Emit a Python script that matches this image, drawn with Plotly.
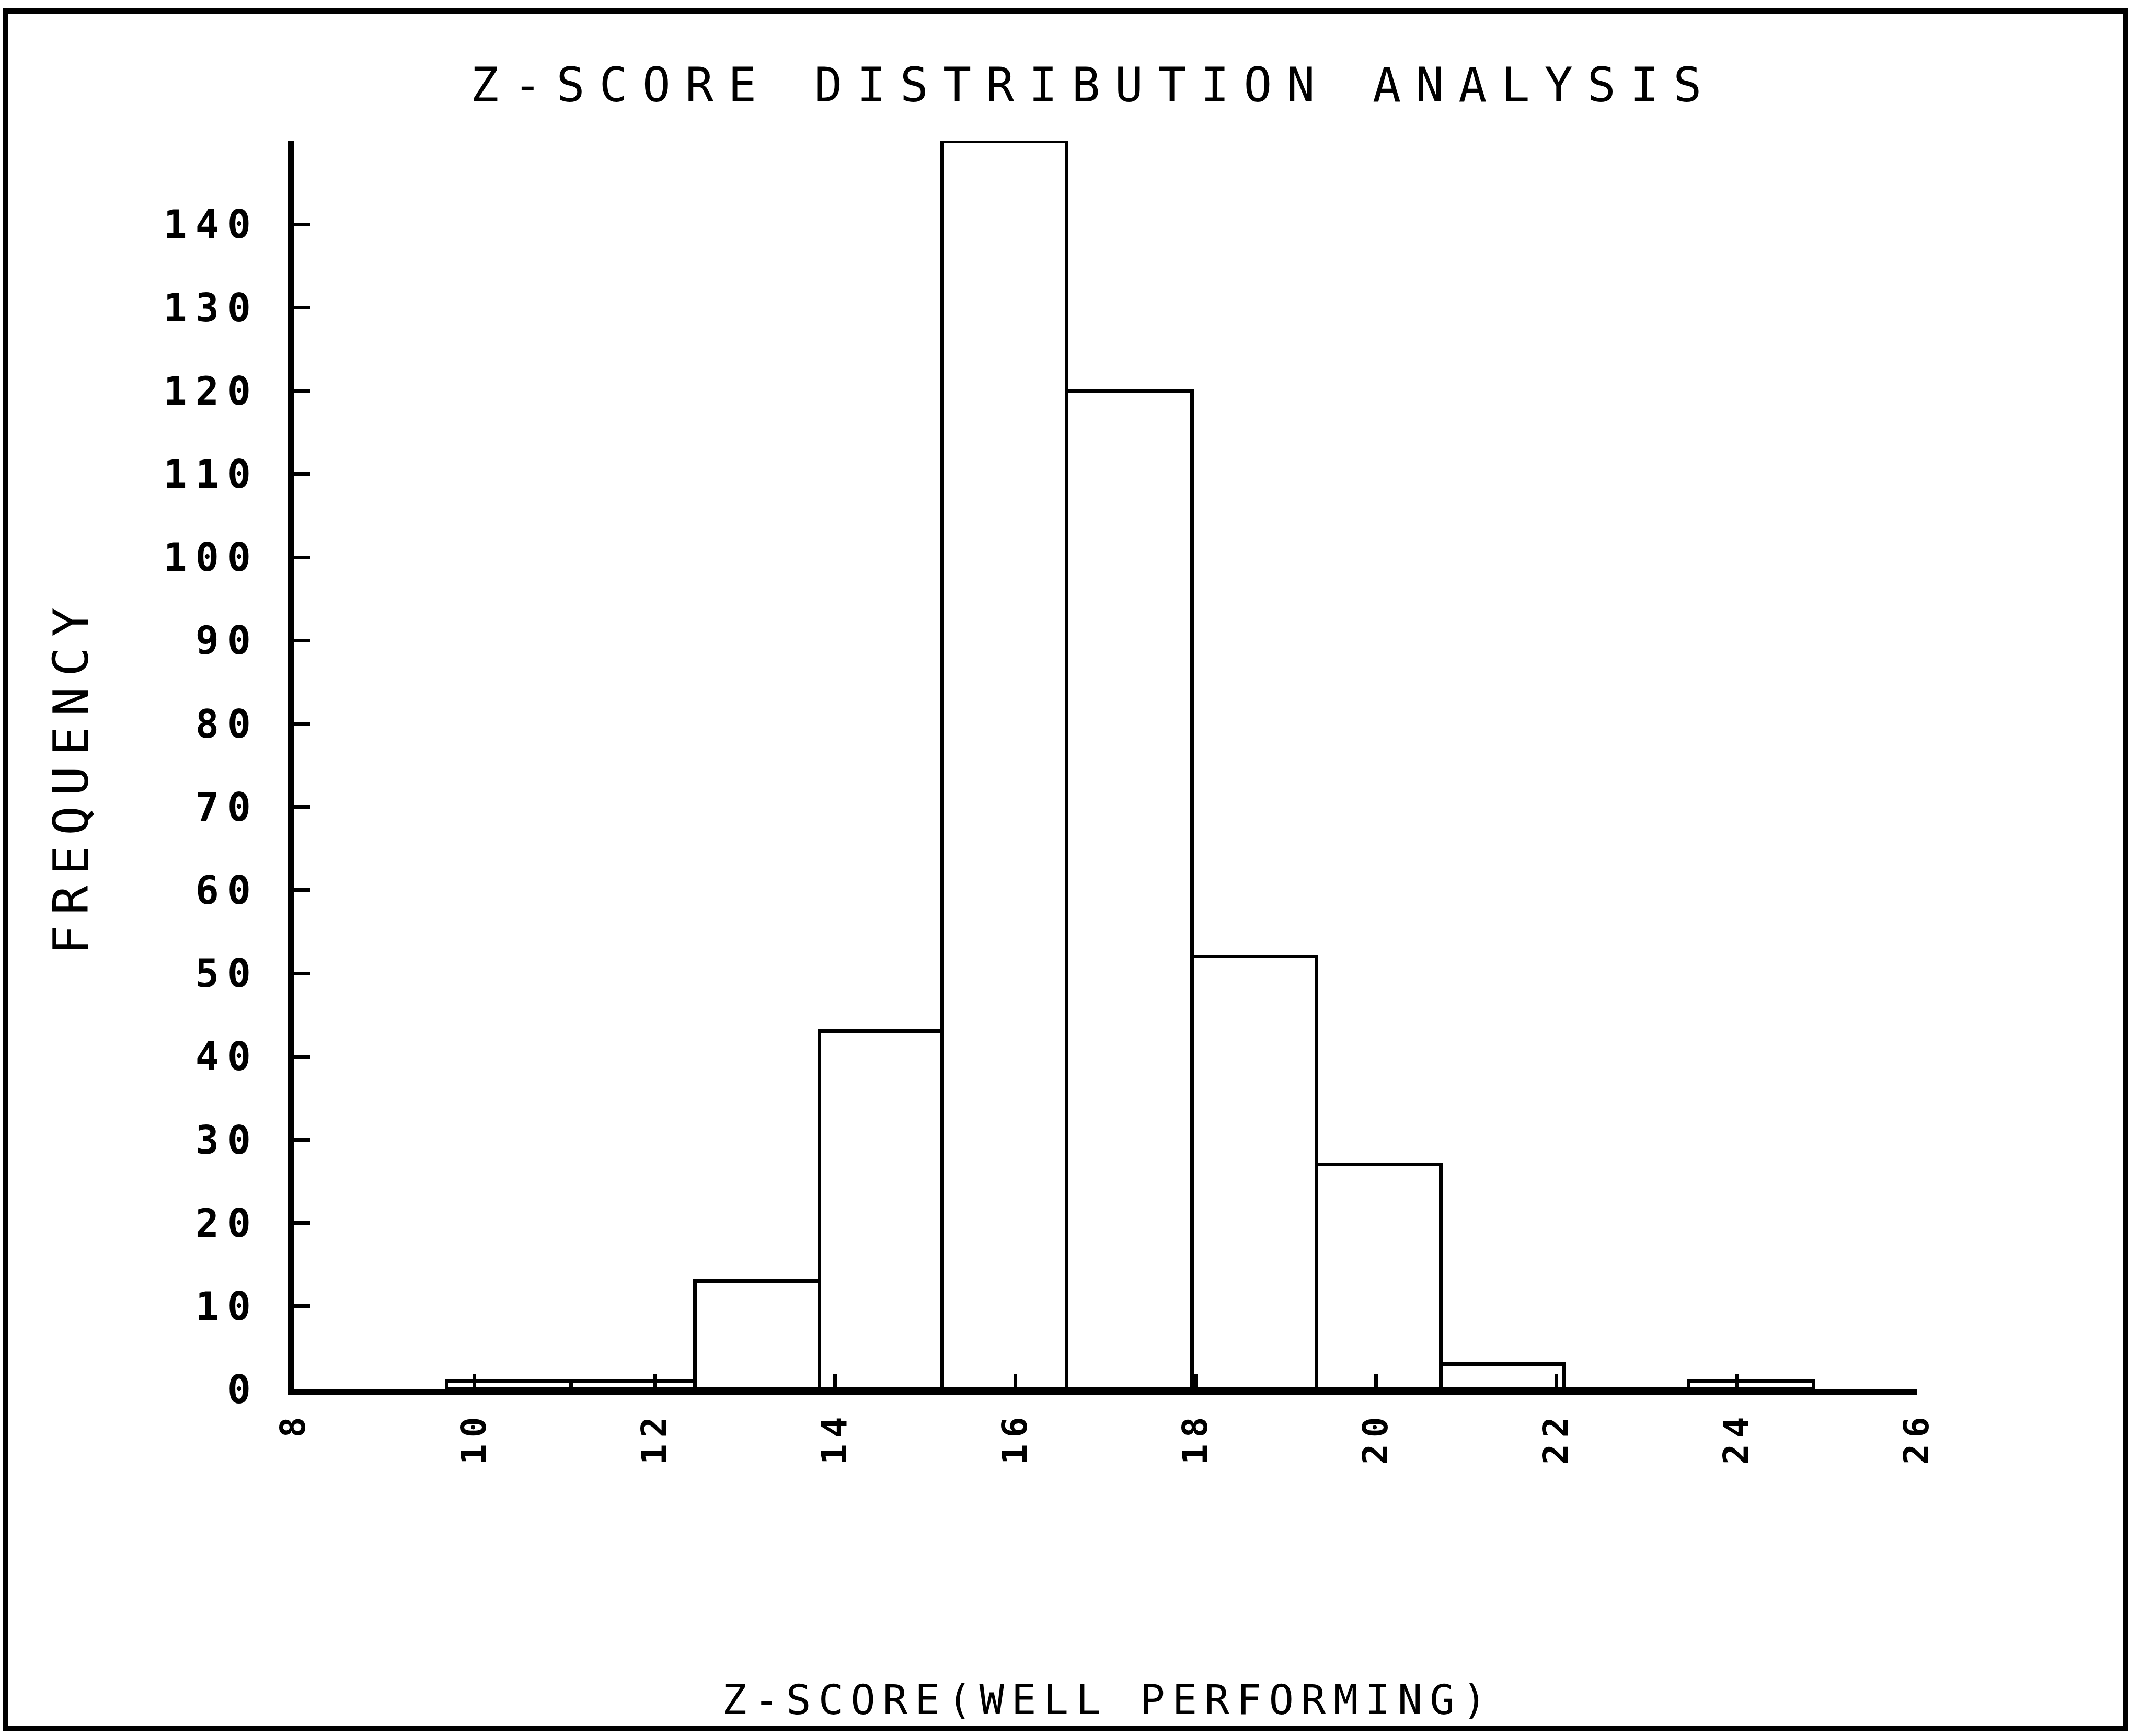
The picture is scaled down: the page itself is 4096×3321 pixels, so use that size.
import plotly.graph_objects as go

# ---- data ----
bin_edges = [9.70, 11.08, 12.45, 13.83, 15.19, 16.57, 17.96, 19.34, 20.72, 22.09, 23.47, 24.85]
frequencies = [1, 1, 13, 43, 150, 120, 52, 27, 3, 0, 1]
x_tick_values = [8, 10, 12, 14, 16, 18, 20, 22, 24, 26]
x_tick_labels = ["8", "10", "12", "14", "16", "18", "20", "22", "24", "26"]
y_tick_values = [0, 10, 20, 30, 40, 50, 60, 70, 80, 90, 100, 110, 120, 130, 140]
y_tick_labels = ["0", "10", "20", "30", "40", "50", "60", "70", "80", "90",
                 "100", "110", "120", "130", "140"]
title_text = "Z-SCORE DISTRIBUTION ANALYSIS"
x_title_text = "Z-SCORE(WELL PERFORMING)"
y_title_text = "FREQUENCY"

# ---- derived ----
centers = [(a + b) / 2 for a, b in zip(bin_edges[:-1], bin_edges[1:])]
widths = [b - a for a, b in zip(bin_edges[:-1], bin_edges[1:])]

FONT = "DejaVu Sans Mono"


def spaced(t, sp):
    return f'<span style="letter-spacing:{sp}px">{t}</span>'


W, H = 4096, 3321
L, R, T, B = 562, 428, 270, 663

fig = go.Figure()
fig.add_trace(go.Bar(
    x=centers, y=frequencies, width=widths,
    marker=dict(color="white", line=dict(color="black", width=7)),
    cliponaxis=False, showlegend=False, hoverinfo="x+y",
))

fig.update_layout(
    width=W, height=H,
    margin=dict(l=L, r=R, t=T, b=B, pad=0),
    paper_bgcolor="white", plot_bgcolor="white",
    font=dict(family=FONT, color="black"),
    title=dict(
        text=spaced(title_text, 28),
        font=dict(family=FONT, size=90, color="black"),
        x=0.4925, xref="paper", xanchor="center",
        y=1 - 162 / H, yref="container", yanchor="middle",
    ),
    bargap=0,
)

fig.update_xaxes(
    range=[8, 26],
    tickmode="array", tickvals=x_tick_values,
    ticktext=[spaced(t, 12) for t in x_tick_labels],
    tickangle=-90,
    tickfont=dict(family=FONT, size=66, color="black", weight="bold"),
    ticks="inside", ticklen=29, tickwidth=7, tickcolor="black",
    showline=True, linewidth=10, linecolor="black",
    showgrid=False, zeroline=False, mirror=False,
    ticklabelstandoff=4,
)
fig.update_yaxes(
    range=[0, 150],
    tickmode="array", tickvals=y_tick_values,
    ticktext=[spaced(t, 16) for t in y_tick_labels],
    tickfont=dict(family=FONT, size=75, color="black", weight="bold"),
    ticks="inside", ticklen=32, tickwidth=7, tickcolor="black",
    showline=True, linewidth=11, linecolor="black",
    showgrid=False, zeroline=False, mirror=False,
    ticklabelstandoff=40,
)

fig.add_annotation(
    text=spaced(y_title_text, 20), textangle=-90,
    x=(136 - L) / (W - L - R), y=(H - B - 1484) / (H - T - B),
    xref="paper", yref="paper", xanchor="center", yanchor="middle",
    showarrow=False, font=dict(family=FONT, size=93, color="black"),
)
fig.add_annotation(
    text=spaced(x_title_text, 14),
    x=(2120 - L) / (W - L - R), y=(H - B - 3252) / (H - T - B),
    xref="paper", yref="paper", xanchor="center", yanchor="middle",
    showarrow=False, font=dict(family=FONT, size=79, color="black"),
)

# paper frame of the scanned sheet
pw, ph = W - L - R, H - T - B
fig.add_shape(
    type="rect", xref="paper", yref="paper",
    x0=(10 - L) / pw, x1=(4067 - L) / pw,
    y0=(H - B - 3307) / ph, y1=(H - B - 21) / ph,
    line=dict(color="black", width=10), fillcolor="rgba(0,0,0,0)",
    layer="above",
)

fig.write_html("out.html")
